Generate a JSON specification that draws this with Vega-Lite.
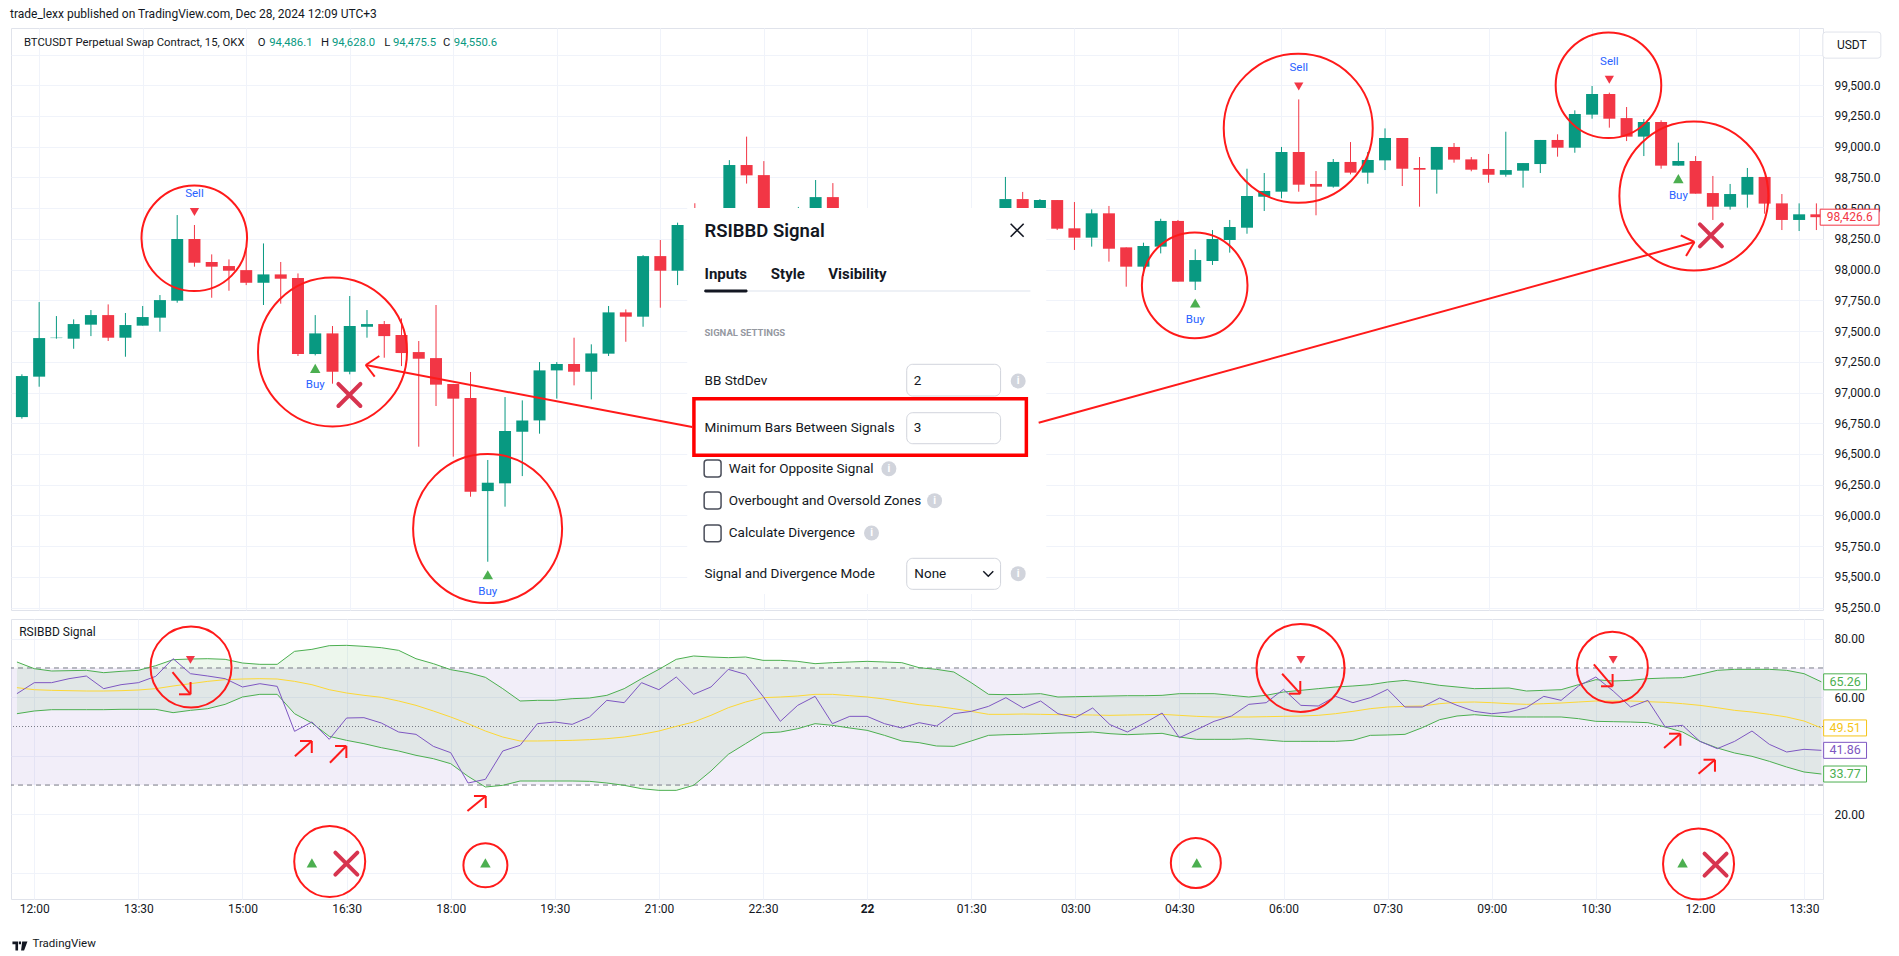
{
"$schema": "https://vega.github.io/schema/vega-lite/v6.json",
"background": "white",
"padding": {"left": 10, "top": 7, "right": 8, "bottom": 4},
"title": {"text": "trade_lexx published on TradingView.com, Dec 28, 2024 12:09 UTC+3", "anchor": "start", "font": "Roboto", "fontSize": 12, "fontWeight": "normal", "color": "#131722", "offset": 7},
"config": {
  "font": "Roboto",
  "view": {"stroke": "#e0e3eb", "strokeWidth": 1},
  "axis": {"labelFont": "Roboto", "labelFontSize": 12, "labelColor": "#131722", "gridColor": "#f0f3fa", "gridWidth": 1, "domain": false, "ticks": false, "tickSize": 0},
  "text": {"font": "Roboto"}
},
"spacing": 3,
"resolve": {"scale": {"color": "independent", "stroke": "independent"}},
"datasets": {
"candles": [
{"t":"2024-12-21T11:45:00","o":96800,"h":97148,"l":96787,"c":97134,"rsi":61.22,"basis":63.27,"upper":72.04,"lower":54.38,"signal":""},
{"t":"2024-12-21T12:00:00","o":97129,"h":97736,"l":97047,"c":97443,"rsi":64.98,"basis":62.58,"upper":69.76,"lower":55.30,"signal":""},
{"t":"2024-12-21T12:15:00","o":97443,"h":97622,"l":97438,"c":97446,"rsi":64.98,"basis":62.36,"upper":68.96,"lower":55.75,"signal":""},
{"t":"2024-12-21T12:30:00","o":97438,"h":97595,"l":97356,"c":97557,"rsi":66.34,"basis":62.24,"upper":69.08,"lower":55.75,"signal":""},
{"t":"2024-12-21T12:45:00","o":97552,"h":97671,"l":97459,"c":97630,"rsi":67.25,"basis":62.13,"upper":69.19,"lower":55.75,"signal":""},
{"t":"2024-12-21T13:00:00","o":97630,"h":97717,"l":97419,"c":97446,"rsi":62.93,"basis":62.13,"upper":68.39,"lower":55.75,"signal":""},
{"t":"2024-12-21T13:15:00","o":97446,"h":97647,"l":97291,"c":97549,"rsi":64.29,"basis":62.24,"upper":68.85,"lower":55.87,"signal":""},
{"t":"2024-12-21T13:30:00","o":97544,"h":97704,"l":97544,"c":97614,"rsi":64.98,"basis":62.47,"upper":69.19,"lower":55.87,"signal":""},
{"t":"2024-12-21T13:45:00","o":97609,"h":97793,"l":97495,"c":97752,"rsi":67.14,"basis":62.93,"upper":70.78,"lower":55.87,"signal":""},
{"t":"2024-12-21T14:00:00","o":97747,"h":98444,"l":97731,"c":98249,"rsi":73.18,"basis":63.84,"upper":72.83,"lower":54.73,"signal":""},
{"t":"2024-12-21T14:15:00","o":98249,"h":98363,"l":98024,"c":98056,"rsi":68.05,"basis":64.63,"upper":73.06,"lower":55.52,"signal":"Sell"},
{"t":"2024-12-21T14:30:00","o":98062,"h":98124,"l":97771,"c":98024,"rsi":67.25,"basis":65.43,"upper":73.17,"lower":56.09,"signal":""},
{"t":"2024-12-21T14:45:00","o":98029,"h":98083,"l":97828,"c":97991,"rsi":66.34,"basis":66.00,"upper":72.95,"lower":57.57,"signal":""},
{"t":"2024-12-21T15:00:00","o":97996,"h":98178,"l":97874,"c":97893,"rsi":63.50,"basis":66.23,"upper":71.69,"lower":60.08,"signal":""},
{"t":"2024-12-21T15:15:00","o":97893,"h":98213,"l":97712,"c":97961,"rsi":64.63,"basis":66.34,"upper":71.24,"lower":60.99,"signal":""},
{"t":"2024-12-21T15:30:00","o":97961,"h":98062,"l":97723,"c":97926,"rsi":63.72,"basis":66.23,"upper":71.24,"lower":60.99,"signal":""},
{"t":"2024-12-21T15:45:00","o":97931,"h":97969,"l":97297,"c":97313,"rsi":48.35,"basis":65.43,"upper":75.68,"lower":54.38,"signal":""},
{"t":"2024-12-21T16:00:00","o":97313,"h":97630,"l":97302,"c":97481,"rsi":51.54,"basis":64.29,"upper":76.36,"lower":51.20,"signal":"Buy"},
{"t":"2024-12-21T16:15:00","o":97481,"h":97541,"l":97072,"c":97169,"rsi":45.62,"basis":62.58,"upper":77.62,"lower":46.64,"signal":""},
{"t":"2024-12-21T16:30:00","o":97169,"h":97785,"l":97148,"c":97541,"rsi":52.91,"basis":61.45,"upper":77.73,"lower":45.27,"signal":""},
{"t":"2024-12-21T16:45:00","o":97535,"h":97671,"l":97446,"c":97557,"rsi":53.02,"basis":60.65,"upper":77.39,"lower":44.14,"signal":""},
{"t":"2024-12-21T17:00:00","o":97557,"h":97582,"l":97283,"c":97459,"rsi":51.20,"basis":59.97,"upper":76.93,"lower":42.77,"signal":""},
{"t":"2024-12-21T17:15:00","o":97468,"h":97603,"l":97215,"c":97321,"rsi":48.12,"basis":58.71,"upper":76.02,"lower":41.63,"signal":""},
{"t":"2024-12-21T17:30:00","o":97329,"h":97419,"l":96559,"c":97275,"rsi":47.32,"basis":57.23,"upper":73.17,"lower":40.15,"signal":""},
{"t":"2024-12-21T17:45:00","o":97280,"h":97712,"l":96890,"c":97064,"rsi":43.22,"basis":55.30,"upper":71.47,"lower":39.01,"signal":""},
{"t":"2024-12-21T18:00:00","o":97069,"h":97069,"l":96478,"c":96950,"rsi":41.06,"basis":53.25,"upper":69.42,"lower":37.30,"signal":""},
{"t":"2024-12-21T18:15:00","o":96955,"h":97167,"l":96152,"c":96193,"rsi":30.70,"basis":50.97,"upper":68.39,"lower":32.98,"signal":""},
{"t":"2024-12-21T18:30:00","o":96198,"h":96451,"l":95623,"c":96266,"rsi":31.95,"basis":48.46,"upper":66.80,"lower":29.33,"signal":"Buy"},
{"t":"2024-12-21T18:45:00","o":96261,"h":96963,"l":96071,"c":96687,"rsi":41.63,"basis":46.41,"upper":62.93,"lower":29.90,"signal":""},
{"t":"2024-12-21T19:00:00","o":96681,"h":96936,"l":96320,"c":96773,"rsi":43.57,"basis":45.05,"upper":58.71,"lower":31.38,"signal":""},
{"t":"2024-12-21T19:15:00","o":96773,"h":97248,"l":96665,"c":97180,"rsi":50.97,"basis":45.05,"upper":58.94,"lower":31.38,"signal":""},
{"t":"2024-12-21T19:30:00","o":97180,"h":97248,"l":96950,"c":97232,"rsi":51.54,"basis":45.16,"upper":58.94,"lower":31.38,"signal":""},
{"t":"2024-12-21T19:45:00","o":97232,"h":97446,"l":97058,"c":97169,"rsi":50.74,"basis":45.27,"upper":59.51,"lower":31.38,"signal":""},
{"t":"2024-12-21T20:00:00","o":97169,"h":97392,"l":96944,"c":97318,"rsi":53.25,"basis":45.50,"upper":59.74,"lower":31.27,"signal":""},
{"t":"2024-12-21T20:15:00","o":97316,"h":97704,"l":97297,"c":97652,"rsi":58.94,"basis":45.84,"upper":60.65,"lower":30.70,"signal":""},
{"t":"2024-12-21T20:30:00","o":97652,"h":97676,"l":97413,"c":97617,"rsi":58.14,"basis":46.41,"upper":62.93,"lower":29.90,"signal":""},
{"t":"2024-12-21T20:45:00","o":97617,"h":98118,"l":97535,"c":98110,"rsi":64.98,"basis":47.32,"upper":66.34,"lower":28.76,"signal":""},
{"t":"2024-12-21T21:00:00","o":98110,"h":98241,"l":97690,"c":97991,"rsi":62.58,"basis":48.46,"upper":69.53,"lower":28.19,"signal":""},
{"t":"2024-12-21T21:15:00","o":97991,"h":98382,"l":97874,"c":98363,"rsi":66.91,"basis":50.06,"upper":72.95,"lower":28.19,"signal":""},
{"t":"2024-12-21T21:30:00","o":98380,"h":98540,"l":98200,"c":98280,"rsi":60.99,"basis":51.54,"upper":74.09,"lower":29.90,"signal":""},
{"t":"2024-12-21T21:45:00","o":98280,"h":98480,"l":98230,"c":98450,"rsi":63.50,"basis":53.82,"upper":73.74,"lower":34.80,"signal":""},
{"t":"2024-12-21T22:00:00","o":98450,"h":98891,"l":98420,"c":98851,"rsi":69.53,"basis":56.43,"upper":73.52,"lower":40.49,"signal":""},
{"t":"2024-12-21T22:15:00","o":98851,"h":99082,"l":98700,"c":98767,"rsi":67.82,"basis":58.37,"upper":73.74,"lower":44.14,"signal":""},
{"t":"2024-12-21T22:30:00","o":98769,"h":98883,"l":98440,"c":98470,"rsi":60.31,"basis":59.85,"upper":72.61,"lower":47.78,"signal":""},
{"t":"2024-12-21T22:45:00","o":98470,"h":98490,"l":98200,"c":98250,"rsi":51.77,"basis":60.08,"upper":72.61,"lower":48.12,"signal":""},
{"t":"2024-12-21T23:00:00","o":98250,"h":98510,"l":98230,"c":98420,"rsi":57.23,"basis":60.42,"upper":72.26,"lower":49.26,"signal":""},
{"t":"2024-12-21T23:15:00","o":98420,"h":98729,"l":98400,"c":98590,"rsi":60.31,"basis":60.99,"upper":71.47,"lower":50.97,"signal":""},
{"t":"2024-12-21T23:30:00","o":98590,"h":98704,"l":98320,"c":98350,"rsi":50.97,"basis":60.99,"upper":71.81,"lower":50.40,"signal":""},
{"t":"2024-12-21T23:45:00","o":98350,"h":98460,"l":98300,"c":98400,"rsi":53.47,"basis":60.53,"upper":72.04,"lower":49.49,"signal":""},
{"t":"2024-12-22T00:00:00","o":98400,"h":98450,"l":98350,"c":98405,"rsi":53.47,"basis":60.08,"upper":72.26,"lower":48.69,"signal":""},
{"t":"2024-12-22T00:15:00","o":98405,"h":98430,"l":98300,"c":98350,"rsi":50.97,"basis":59.40,"upper":72.04,"lower":46.98,"signal":""},
{"t":"2024-12-22T00:30:00","o":98350,"h":98390,"l":98270,"c":98320,"rsi":49.49,"basis":58.37,"upper":71.81,"lower":45.05,"signal":""},
{"t":"2024-12-22T00:45:00","o":98320,"h":98420,"l":98290,"c":98370,"rsi":51.31,"basis":57.46,"upper":70.10,"lower":44.48,"signal":""},
{"t":"2024-12-22T01:00:00","o":98370,"h":98410,"l":98300,"c":98340,"rsi":50.17,"basis":56.89,"upper":69.53,"lower":43.34,"signal":""},
{"t":"2024-12-22T01:15:00","o":98340,"h":98470,"l":98320,"c":98430,"rsi":54.38,"basis":56.09,"upper":68.62,"lower":43.22,"signal":""},
{"t":"2024-12-22T01:30:00","o":98430,"h":98490,"l":98380,"c":98460,"rsi":55.18,"basis":55.18,"upper":64.98,"lower":45.05,"signal":""},
{"t":"2024-12-22T01:45:00","o":98460,"h":98495,"l":98420,"c":98480,"rsi":56.89,"basis":54.16,"upper":60.99,"lower":46.98,"signal":""},
{"t":"2024-12-22T02:00:00","o":98480,"h":98754,"l":98450,"c":98574,"rsi":59.85,"basis":54.16,"upper":60.88,"lower":47.21,"signal":""},
{"t":"2024-12-22T02:15:00","o":98574,"h":98632,"l":98440,"c":98480,"rsi":56.32,"basis":54.27,"upper":60.99,"lower":47.32,"signal":""},
{"t":"2024-12-22T02:30:00","o":98480,"h":98574,"l":98450,"c":98566,"rsi":58.71,"basis":54.16,"upper":61.22,"lower":47.55,"signal":""},
{"t":"2024-12-22T02:45:00","o":98566,"h":98566,"l":98322,"c":98333,"rsi":54.38,"basis":54.04,"upper":60.08,"lower":47.78,"signal":""},
{"t":"2024-12-22T03:00:00","o":98336,"h":98550,"l":98160,"c":98260,"rsi":53.02,"basis":54.04,"upper":60.19,"lower":47.89,"signal":""},
{"t":"2024-12-22T03:15:00","o":98260,"h":98490,"l":98187,"c":98458,"rsi":56.32,"basis":53.93,"upper":60.31,"lower":48.12,"signal":""},
{"t":"2024-12-22T03:30:00","o":98458,"h":98518,"l":98065,"c":98170,"rsi":50.63,"basis":53.82,"upper":60.42,"lower":47.55,"signal":""},
{"t":"2024-12-22T03:45:00","o":98181,"h":98181,"l":97861,"c":98024,"rsi":48.12,"basis":53.93,"upper":60.53,"lower":47.21,"signal":""},
{"t":"2024-12-22T04:00:00","o":98024,"h":98219,"l":97950,"c":98192,"rsi":51.20,"basis":54.04,"upper":60.53,"lower":47.44,"signal":""},
{"t":"2024-12-22T04:15:00","o":98187,"h":98414,"l":98132,"c":98396,"rsi":54.61,"basis":54.16,"upper":60.65,"lower":47.67,"signal":""},
{"t":"2024-12-22T04:30:00","o":98396,"h":98404,"l":97902,"c":97902,"rsi":46.19,"basis":53.82,"upper":61.22,"lower":46.41,"signal":""},
{"t":"2024-12-22T04:45:00","o":97902,"h":98165,"l":97834,"c":98078,"rsi":48.92,"basis":53.47,"upper":61.22,"lower":45.62,"signal":"Buy"},
{"t":"2024-12-22T05:00:00","o":98070,"h":98322,"l":98038,"c":98249,"rsi":51.77,"basis":53.25,"upper":61.22,"lower":45.62,"signal":""},
{"t":"2024-12-22T05:15:00","o":98241,"h":98404,"l":98138,"c":98347,"rsi":53.59,"basis":53.25,"upper":60.65,"lower":45.62,"signal":""},
{"t":"2024-12-22T05:30:00","o":98341,"h":98821,"l":98292,"c":98599,"rsi":57.57,"basis":53.25,"upper":60.08,"lower":45.84,"signal":""},
{"t":"2024-12-22T05:45:00","o":98593,"h":98786,"l":98477,"c":98640,"rsi":58.14,"basis":53.36,"upper":60.65,"lower":45.39,"signal":""},
{"t":"2024-12-22T06:00:00","o":98634,"h":98998,"l":98580,"c":98957,"rsi":62.70,"basis":53.47,"upper":61.79,"lower":44.93,"signal":""},
{"t":"2024-12-22T06:15:00","o":98957,"h":99385,"l":98634,"c":98691,"rsi":57.23,"basis":53.59,"upper":62.36,"lower":44.93,"signal":"Sell"},
{"t":"2024-12-22T06:30:00","o":98697,"h":98802,"l":98442,"c":98675,"rsi":57.00,"basis":53.82,"upper":62.93,"lower":44.93,"signal":""},
{"t":"2024-12-22T06:45:00","o":98675,"h":98900,"l":98667,"c":98876,"rsi":60.31,"basis":54.38,"upper":63.50,"lower":44.93,"signal":""},
{"t":"2024-12-22T07:00:00","o":98876,"h":99038,"l":98775,"c":98789,"rsi":58.14,"basis":55.18,"upper":63.84,"lower":45.27,"signal":""},
{"t":"2024-12-22T07:15:00","o":98789,"h":98957,"l":98699,"c":98892,"rsi":59.85,"basis":56.09,"upper":64.29,"lower":46.98,"signal":""},
{"t":"2024-12-22T07:30:00","o":98889,"h":99149,"l":98810,"c":99071,"rsi":62.70,"basis":56.66,"upper":65.20,"lower":47.10,"signal":""},
{"t":"2024-12-22T07:45:00","o":99071,"h":99071,"l":98680,"c":98821,"rsi":56.66,"basis":56.89,"upper":65.77,"lower":47.32,"signal":""},
{"t":"2024-12-22T08:00:00","o":98827,"h":98916,"l":98512,"c":98813,"rsi":56.66,"basis":57.00,"upper":64.98,"lower":49.60,"signal":""},
{"t":"2024-12-22T08:15:00","o":98813,"h":98998,"l":98618,"c":98998,"rsi":59.74,"basis":57.80,"upper":64.06,"lower":52.33,"signal":""},
{"t":"2024-12-22T08:30:00","o":98998,"h":99030,"l":98870,"c":98895,"rsi":57.23,"basis":58.26,"upper":63.50,"lower":53.59,"signal":""},
{"t":"2024-12-22T08:45:00","o":98897,"h":98916,"l":98800,"c":98813,"rsi":55.18,"basis":58.37,"upper":62.93,"lower":54.04,"signal":""},
{"t":"2024-12-22T09:00:00","o":98819,"h":98941,"l":98707,"c":98772,"rsi":54.38,"basis":58.14,"upper":63.04,"lower":53.59,"signal":""},
{"t":"2024-12-22T09:15:00","o":98772,"h":99122,"l":98756,"c":98810,"rsi":54.95,"basis":57.80,"upper":63.15,"lower":53.25,"signal":""},
{"t":"2024-12-22T09:30:00","o":98805,"h":98867,"l":98667,"c":98867,"rsi":56.43,"basis":57.57,"upper":62.13,"lower":53.25,"signal":""},
{"t":"2024-12-22T09:45:00","o":98859,"h":99055,"l":98786,"c":99055,"rsi":60.31,"basis":57.80,"upper":62.36,"lower":53.25,"signal":""},
{"t":"2024-12-22T10:00:00","o":99055,"h":99101,"l":98919,"c":98992,"rsi":58.94,"basis":58.03,"upper":62.58,"lower":53.25,"signal":""},
{"t":"2024-12-22T10:15:00","o":98992,"h":99296,"l":98951,"c":99266,"rsi":63.84,"basis":58.37,"upper":64.29,"lower":52.68,"signal":""},
{"t":"2024-12-22T10:30:00","o":99261,"h":99494,"l":99228,"c":99429,"rsi":66.91,"basis":58.71,"upper":66.00,"lower":51.77,"signal":""},
{"t":"2024-12-22T10:45:00","o":99429,"h":99440,"l":99155,"c":99228,"rsi":62.13,"basis":58.71,"upper":65.55,"lower":51.65,"signal":"Sell"},
{"t":"2024-12-22T11:00:00","o":99233,"h":99323,"l":99046,"c":99082,"rsi":56.66,"basis":58.71,"upper":65.77,"lower":51.54,"signal":""},
{"t":"2024-12-22T11:15:00","o":99082,"h":99225,"l":98924,"c":99201,"rsi":58.94,"basis":58.48,"upper":66.34,"lower":51.31,"signal":""},
{"t":"2024-12-22T11:30:00","o":99201,"h":99215,"l":98821,"c":98846,"rsi":49.83,"basis":58.26,"upper":66.57,"lower":49.83,"signal":""},
{"t":"2024-12-22T11:45:00","o":98846,"h":99033,"l":98846,"c":98884,"rsi":50.40,"basis":57.80,"upper":66.68,"lower":48.12,"signal":"Buy"},
{"t":"2024-12-22T12:00:00","o":98884,"h":98924,"l":98618,"c":98618,"rsi":44.93,"basis":57.23,"upper":67.82,"lower":44.93,"signal":""},
{"t":"2024-12-22T12:15:00","o":98623,"h":98762,"l":98404,"c":98512,"rsi":42.43,"basis":56.43,"upper":69.19,"lower":42.66,"signal":""},
{"t":"2024-12-22T12:30:00","o":98512,"h":98697,"l":98488,"c":98615,"rsi":44.93,"basis":55.52,"upper":69.53,"lower":40.95,"signal":""},
{"t":"2024-12-22T12:45:00","o":98610,"h":98827,"l":98504,"c":98754,"rsi":48.46,"basis":54.95,"upper":69.53,"lower":39.81,"signal":""},
{"t":"2024-12-22T13:00:00","o":98754,"h":98754,"l":98455,"c":98537,"rsi":43.91,"basis":54.16,"upper":69.53,"lower":38.10,"signal":""},
{"t":"2024-12-22T13:15:00","o":98539,"h":98615,"l":98322,"c":98404,"rsi":41.29,"basis":53.25,"upper":69.19,"lower":36.16,"signal":""},
{"t":"2024-12-22T13:30:00","o":98404,"h":98539,"l":98314,"c":98450,"rsi":42.20,"basis":51.88,"upper":68.05,"lower":34.46,"signal":""},
{"t":"2024-12-22T13:45:00","o":98450,"h":98539,"l":98322,"c":98426.6,"rsi":41.86,"basis":49.51,"upper":65.26,"lower":33.77,"signal":""}
],
"hdr": [
{"t":"2024-12-21T11:46:48","p":99841,"text":"BTCUSDT Perpetual Swap Contract, 15, OKX","part":"name"},
{"t":"2024-12-21T15:10:00","p":99841,"text":"O","part":"name"},
{"t":"2024-12-21T15:20:00","p":99841,"text":"94,486.1","part":"value"},
{"t":"2024-12-21T16:05:00","p":99841,"text":"H","part":"name"},
{"t":"2024-12-21T16:14:30","p":99841,"text":"94,628.0","part":"value"},
{"t":"2024-12-21T17:00:00","p":99841,"text":"L","part":"name"},
{"t":"2024-12-21T17:07:30","p":99841,"text":"94,475.5","part":"value"},
{"t":"2024-12-21T17:51:00","p":99841,"text":"C","part":"name"},
{"t":"2024-12-21T18:00:30","p":99841,"text":"94,550.6","part":"value"}
],
"mainCircles": [
{"t":"2024-12-21T14:14:51","p":98255,"cls":"S"},
{"t":"2024-12-21T16:15:00","p":97330,"cls":"L"},
{"t":"2024-12-21T18:29:51","p":95893,"cls":"L"},
{"t":"2024-12-22T04:44:33","p":97872,"cls":"S"},
{"t":"2024-12-22T06:14:33","p":99150,"cls":"L"},
{"t":"2024-12-22T10:44:15","p":99500,"cls":"S"},
{"t":"2024-12-22T11:58:30","p":98599,"cls":"L"}
],
"mainX": [
{"t":"2024-12-21T16:29:42","p":96980},
{"t":"2024-12-22T12:13:18","p":98279}
],
"mainLines": [
{"t1":"2024-12-21T21:27:42","p1":96719,"t2":"2024-12-21T16:43:54","p2":97223.8},
{"t1":"2024-12-21T16:43:54","p1":97223.8,"t2":"2024-12-21T16:55:42","p2":97297},
{"t1":"2024-12-21T16:43:54","p1":97223.8,"t2":"2024-12-21T16:51:42","p2":97128.6},
{"t1":"2024-12-22T02:28:54","p1":96754,"t2":"2024-12-22T11:59:00","p2":98224.6},
{"t1":"2024-12-22T11:59:00","p1":98224.6,"t2":"2024-12-22T11:47:06","p2":98279},
{"t1":"2024-12-22T11:59:00","p1":98224.6,"t2":"2024-12-22T11:51:42","p2":98110.7}
],
"uiRects": [
{"kind":"dialog","t1":"2024-12-21T21:23:24","t2":"2024-12-22T02:35:30","p1":98501,"p2":95360},
{"kind":"tabbase","t1":"2024-12-21T22:15:54","t2":"2024-12-22T02:21:42","p1":97834,"p2":97818},
{"kind":"tabline","t1":"2024-12-21T21:38:06","t2":"2024-12-21T22:15:54","p1":97838,"p2":97814},
{"kind":"input","t1":"2024-12-22T00:34:12","t2":"2024-12-22T01:55:48","p1":97229.5,"p2":96971.5},
{"kind":"input","t1":"2024-12-22T00:34:12","t2":"2024-12-22T01:55:48","p1":96835.6,"p2":96583.4},
{"kind":"input","t1":"2024-12-22T00:34:12","t2":"2024-12-22T01:55:48","p1":95650.9,"p2":95398.6},
{"kind":"checkbox","t1":"2024-12-21T21:38:06","t2":"2024-12-21T21:52:48","p1":96450.7,"p2":96312.4},
{"kind":"checkbox","t1":"2024-12-21T21:38:06","t2":"2024-12-21T21:52:48","p1":96190.3,"p2":96052},
{"kind":"checkbox","t1":"2024-12-21T21:38:06","t2":"2024-12-21T21:52:48","p1":95921.8,"p2":95785.9},
{"kind":"highlight","t1":"2024-12-21T21:29:12","t2":"2024-12-22T02:18:12","p1":96949.6,"p2":96489}
],
"uiText": [
{"kind":"dtitle","t":"2024-12-21T21:38:24","p":98314,"text":"RSIBBD Signal"},
{"kind":"tab","t":"2024-12-21T21:38:24","p":97967,"text":"Inputs"},
{"kind":"tab","t":"2024-12-21T22:36:03","p":97967,"text":"Style"},
{"kind":"tab","t":"2024-12-21T23:25:56","p":97967,"text":"Visibility"},
{"kind":"section","t":"2024-12-21T21:38:24","p":97484,"text":"SIGNAL SETTINGS"},
{"kind":"label","t":"2024-12-21T21:38:24","p":97094,"text":"BB StdDev"},
{"kind":"label","t":"2024-12-21T21:38:24","p":96709,"text":"Minimum Bars Between Signals"},
{"kind":"label","t":"2024-12-21T21:38:24","p":95526,"text":"Signal and Divergence Mode"},
{"kind":"label","t":"2024-12-21T21:59:30","p":96380,"text":"Wait for Opposite Signal"},
{"kind":"label","t":"2024-12-21T21:59:30","p":96120,"text":"Overbought and Oversold Zones"},
{"kind":"label","t":"2024-12-21T21:59:30","p":95857,"text":"Calculate Divergence"},
{"kind":"label","t":"2024-12-22T00:40:18","p":97094,"text":"2"},
{"kind":"label","t":"2024-12-22T00:40:18","p":96709,"text":"3"},
{"kind":"label","t":"2024-12-22T00:40:48","p":95526,"text":"None"}
],
"uiIcons": [
{"kind":"info","t":"2024-12-22T02:11:06","p":97094},
{"kind":"info","t":"2024-12-22T00:18:42","p":96380},
{"kind":"info","t":"2024-12-22T00:58:24","p":96120},
{"kind":"info","t":"2024-12-22T00:03:36","p":95857},
{"kind":"info","t":"2024-12-22T02:11:06","p":95526},
{"kind":"close","t":"2024-12-22T02:10:12","p":98320},
{"kind":"chevron","t":"2024-12-22T01:45:06","p":95526}
],
"rsiCircles": [
{"t":"2024-12-21T14:15:30","v":70.33,"cls":"d"},
{"t":"2024-12-21T16:15:24","v":3.88,"cls":"c"},
{"t":"2024-12-21T18:30:00","v":2.58,"cls":"a"},
{"t":"2024-12-22T04:44:12","v":3.37,"cls":"b"},
{"t":"2024-12-22T06:14:42","v":69.99,"cls":"e"},
{"t":"2024-12-22T10:44:18","v":70.23,"cls":"c"},
{"t":"2024-12-22T11:58:48","v":3.03,"cls":"c"}
],
"rsiX": [
{"t":"2024-12-21T16:29:48","v":3.13},
{"t":"2024-12-22T12:13:30","v":2.79}
],
"rsiLines": [
{"t1":"2024-12-21T13:59:30","v1":68.62,"t2":"2024-12-21T14:15:06","v2":61.0},
{"t1":"2024-12-21T14:15:06","v1":61.0,"t2":"2024-12-21T14:05:06","v2":61.0},
{"t1":"2024-12-21T14:15:06","v1":61.0,"t2":"2024-12-21T14:15:06","v2":65.21},
{"t1":"2024-12-21T15:45:18","v1":39.82,"t2":"2024-12-21T15:59:54","v2":45.05},
{"t1":"2024-12-21T15:59:54","v1":45.05,"t2":"2024-12-21T15:49:42","v2":45.05},
{"t1":"2024-12-21T15:59:54","v1":45.05,"t2":"2024-12-21T15:59:54","v2":40.95},
{"t1":"2024-12-21T16:15:36","v1":37.64,"t2":"2024-12-21T16:29:48","v2":43.34},
{"t1":"2024-12-21T16:29:48","v1":43.34,"t2":"2024-12-21T16:20:00","v2":43.34},
{"t1":"2024-12-21T16:29:48","v1":43.34,"t2":"2024-12-21T16:29:48","v2":39.24},
{"t1":"2024-12-21T18:14:30","v1":21.13,"t2":"2024-12-21T18:30:18","v2":26.26},
{"t1":"2024-12-21T18:30:18","v1":26.26,"t2":"2024-12-21T18:20:06","v2":26.26},
{"t1":"2024-12-21T18:30:18","v1":26.26,"t2":"2024-12-21T18:30:18","v2":22.16},
{"t1":"2024-12-22T05:58:48","v1":68.04,"t2":"2024-12-22T06:14:30","v2":61.21},
{"t1":"2024-12-22T06:14:30","v1":61.21,"t2":"2024-12-22T06:04:48","v2":61.21},
{"t1":"2024-12-22T06:14:30","v1":61.21,"t2":"2024-12-22T06:14:30","v2":65.55},
{"t1":"2024-12-22T10:28:18","v1":71.25,"t2":"2024-12-22T10:44:30","v2":63.74},
{"t1":"2024-12-22T10:44:30","v1":63.74,"t2":"2024-12-22T10:34:30","v2":63.74},
{"t1":"2024-12-22T10:44:30","v1":63.74,"t2":"2024-12-22T10:44:30","v2":67.94},
{"t1":"2024-12-22T11:29:00","v1":42.66,"t2":"2024-12-22T11:43:06","v2":47.54},
{"t1":"2024-12-22T11:43:06","v1":47.54,"t2":"2024-12-22T11:33:18","v2":47.54},
{"t1":"2024-12-22T11:43:06","v1":47.54,"t2":"2024-12-22T11:43:06","v2":43.44},
{"t1":"2024-12-22T11:58:48","v1":33.88,"t2":"2024-12-22T12:13:00","v2":38.66},
{"t1":"2024-12-22T12:13:00","v1":38.66,"t2":"2024-12-22T12:03:06","v2":38.66},
{"t1":"2024-12-22T12:13:00","v1":38.66,"t2":"2024-12-22T12:13:00","v2":34.56}
]
},
"vconcat": [
{
"width": 1812, "height": 582,
"layer": [
{"data": {"name": "candles"}, "mark": {"type": "rule", "strokeWidth": 1, "clip": true},
 "encoding": {
  "x": {"field": "t", "type": "temporal", "scale": {"domain": [{"year":2024,"month":12,"date":21,"hours":11,"minutes":39,"seconds":52},{"year":2024,"month":12,"date":22,"hours":13,"minutes":46,"seconds":24}], "nice": false},
        "axis": {"values": [{"year":2024,"month":12,"date":21,"hours":12,"minutes":0},{"year":2024,"month":12,"date":21,"hours":13,"minutes":30},{"year":2024,"month":12,"date":21,"hours":15,"minutes":0},{"year":2024,"month":12,"date":21,"hours":16,"minutes":30},{"year":2024,"month":12,"date":21,"hours":18,"minutes":0},{"year":2024,"month":12,"date":21,"hours":19,"minutes":30},{"year":2024,"month":12,"date":21,"hours":21,"minutes":0},{"year":2024,"month":12,"date":21,"hours":22,"minutes":30},{"year":2024,"month":12,"date":22,"hours":0,"minutes":0},{"year":2024,"month":12,"date":22,"hours":1,"minutes":30},{"year":2024,"month":12,"date":22,"hours":3,"minutes":0},{"year":2024,"month":12,"date":22,"hours":4,"minutes":30},{"year":2024,"month":12,"date":22,"hours":6,"minutes":0},{"year":2024,"month":12,"date":22,"hours":7,"minutes":30},{"year":2024,"month":12,"date":22,"hours":9,"minutes":0},{"year":2024,"month":12,"date":22,"hours":10,"minutes":30},{"year":2024,"month":12,"date":22,"hours":12,"minutes":0},{"year":2024,"month":12,"date":22,"hours":13,"minutes":30}], "tickCount": 60, "labels": false, "grid": true, "title": null}},
  "y": {"field": "l", "type": "quantitative", "scale": {"domain": [95230.3, 99966], "nice": false, "zero": false},
        "axis": {"orient": "right", "values": [95250,95500,95750,96000,96250,96500,96750,97000,97250,97500,97750,98000,98250,98500,98750,99000,99250,99500,99750], "tickCount": 60, "labelExpr": "datum.value > 99600 ? '' : format(datum.value, ',.1f')", "labelOverlap": false, "grid": true, "labelPadding": 11, "title": null}},
  "y2": {"field": "h"},
  "color": {"condition": {"test": "datum.c >= datum.o", "value": "#089981"}, "value": "#f23645"}
 }},
{"data": {"name": "candles"}, "mark": {"type": "bar", "size": 12, "clip": true},
 "encoding": {"x": {"field": "t", "type": "temporal"}, "y": {"field": "o", "type": "quantitative"}, "y2": {"field": "c"},
  "color": {"condition": {"test": "datum.c >= datum.o", "value": "#089981"}, "value": "#f23645"}}},
{"data": {"name": "candles"}, "transform": [{"filter": "datum.signal == 'Sell'"}],
 "mark": {"type": "point", "shape": "triangle-down", "filled": true, "size": 86, "color": "#f23645", "opacity": 1, "yOffset": -13},
 "encoding": {"x": {"field": "t", "type": "temporal"}, "y": {"field": "h", "type": "quantitative"}}},
{"data": {"name": "candles"}, "transform": [{"filter": "datum.signal == 'Sell'"}],
 "mark": {"type": "text", "color": "#2962ff", "fontSize": 11.5, "yOffset": -31, "align": "center", "baseline": "middle"},
 "encoding": {"x": {"field": "t", "type": "temporal"}, "y": {"field": "h", "type": "quantitative"}, "text": {"field": "signal"}}},
{"data": {"name": "candles"}, "transform": [{"filter": "datum.signal == 'Buy'"}],
 "mark": {"type": "point", "shape": "triangle-up", "filled": true, "size": 110, "color": "#4caf50", "opacity": 1, "yOffset": 13},
 "encoding": {"x": {"field": "t", "type": "temporal"}, "y": {"field": "l", "type": "quantitative"}}},
{"data": {"name": "candles"}, "transform": [{"filter": "datum.signal == 'Buy'"}],
 "mark": {"type": "text", "color": "#2962ff", "fontSize": 11.5, "yOffset": 30, "align": "center", "baseline": "middle"},
 "encoding": {"x": {"field": "t", "type": "temporal"}, "y": {"field": "l", "type": "quantitative"}, "text": {"field": "signal"}}},
{"data": {"name": "hdr"}, "mark": {"type": "text", "align": "left", "baseline": "middle", "fontSize": 11.3},
 "encoding": {"x": {"field": "t", "type": "temporal"}, "y": {"field": "p", "type": "quantitative"}, "text": {"field": "text"},
  "color": {"field": "part", "type": "nominal", "scale": {"domain": ["name","value"], "range": ["#131722","#089981"]}, "legend": null}}},
{"data": {"name": "mainCircles"}, "transform": [{"filter": "datum.cls == 'S'"}], "mark": {"type": "point", "shape": "circle", "filled": false, "color": "#ff1a1a", "strokeWidth": 2, "opacity": 1, "size": 11151},
 "encoding": {"x": {"field": "t", "type": "temporal"}, "y": {"field": "p", "type": "quantitative"}}},
{"data": {"name": "mainCircles"}, "transform": [{"filter": "datum.cls == 'L'"}], "mark": {"type": "point", "shape": "circle", "filled": false, "color": "#ff1a1a", "strokeWidth": 2, "opacity": 1, "size": 22201},
 "encoding": {"x": {"field": "t", "type": "temporal"}, "y": {"field": "p", "type": "quantitative"}}},
{"data": {"name": "mainX"}, "mark": {"type": "point", "shape": "M-1,-1L1,1M1,-1L-1,1", "filled": false, "size": 484, "color": "#d7344f", "strokeWidth": 4, "strokeCap": "round", "opacity": 1},
 "encoding": {"x": {"field": "t", "type": "temporal"}, "y": {"field": "p", "type": "quantitative"}}},
{"data": {"name": "uiRects"}, "transform": [{"filter": "datum.kind == 'dialog'"}], "mark": {"type": "rect", "fill": "white"},
 "encoding": {"x": {"field": "t1", "type": "temporal"}, "x2": {"field": "t2"}, "y": {"field": "p1", "type": "quantitative"}, "y2": {"field": "p2"}}},
{"data": {"name": "uiRects"}, "transform": [{"filter": "datum.kind == 'tabbase'"}], "mark": {"type": "rect", "fill": "#eef1f6"},
 "encoding": {"x": {"field": "t1", "type": "temporal"}, "x2": {"field": "t2"}, "y": {"field": "p1", "type": "quantitative"}, "y2": {"field": "p2"}}},
{"data": {"name": "uiRects"}, "transform": [{"filter": "datum.kind == 'tabline'"}], "mark": {"type": "rect", "fill": "#131722", "cornerRadius": 1.5},
 "encoding": {"x": {"field": "t1", "type": "temporal"}, "x2": {"field": "t2"}, "y": {"field": "p1", "type": "quantitative"}, "y2": {"field": "p2"}}},
{"data": {"name": "uiRects"}, "transform": [{"filter": "datum.kind == 'input'"}], "mark": {"type": "rect", "fill": "white", "stroke": "#d1d4dc", "strokeWidth": 1, "cornerRadius": 6},
 "encoding": {"x": {"field": "t1", "type": "temporal"}, "x2": {"field": "t2"}, "y": {"field": "p1", "type": "quantitative"}, "y2": {"field": "p2"}}},
{"data": {"name": "uiRects"}, "transform": [{"filter": "datum.kind == 'checkbox'"}], "mark": {"type": "rect", "fill": "white", "stroke": "#4a4e5a", "strokeWidth": 1.5, "cornerRadius": 3},
 "encoding": {"x": {"field": "t1", "type": "temporal"}, "x2": {"field": "t2"}, "y": {"field": "p1", "type": "quantitative"}, "y2": {"field": "p2"}}},
{"data": {"name": "uiRects"}, "transform": [{"filter": "datum.kind == 'highlight'"}], "mark": {"type": "rect", "fill": "transparent", "stroke": "#ff0000", "strokeWidth": 3.5},
 "encoding": {"x": {"field": "t1", "type": "temporal"}, "x2": {"field": "t2"}, "y": {"field": "p1", "type": "quantitative"}, "y2": {"field": "p2"}}},
{"data": {"name": "uiText"}, "transform": [{"filter": "datum.kind == 'dtitle'"}], "mark": {"type": "text", "align": "left", "baseline": "middle", "fontSize": 18.5, "fontWeight": 600, "color": "#131722"},
 "encoding": {"x": {"field": "t", "type": "temporal"}, "y": {"field": "p", "type": "quantitative"}, "text": {"field": "text"}}},
{"data": {"name": "uiText"}, "transform": [{"filter": "datum.kind == 'tab'"}], "mark": {"type": "text", "align": "left", "baseline": "middle", "fontSize": 15, "fontWeight": "bold", "color": "#131722"},
 "encoding": {"x": {"field": "t", "type": "temporal"}, "y": {"field": "p", "type": "quantitative"}, "text": {"field": "text"}}},
{"data": {"name": "uiText"}, "transform": [{"filter": "datum.kind == 'section'"}], "mark": {"type": "text", "align": "left", "baseline": "middle", "fontSize": 9.5, "fontWeight": "bold", "color": "#9598a1"},
 "encoding": {"x": {"field": "t", "type": "temporal"}, "y": {"field": "p", "type": "quantitative"}, "text": {"field": "text"}}},
{"data": {"name": "uiText"}, "transform": [{"filter": "datum.kind == 'label'"}], "mark": {"type": "text", "align": "left", "baseline": "middle", "fontSize": 13.5, "color": "#131722"},
 "encoding": {"x": {"field": "t", "type": "temporal"}, "y": {"field": "p", "type": "quantitative"}, "text": {"field": "text"}}},
{"data": {"name": "uiIcons"}, "transform": [{"filter": "datum.kind == 'info'"}], "mark": {"type": "point", "shape": "circle", "filled": true, "size": 225, "color": "#d1d4dc", "opacity": 1},
 "encoding": {"x": {"field": "t", "type": "temporal"}, "y": {"field": "p", "type": "quantitative"}}},
{"data": {"name": "uiIcons"}, "transform": [{"filter": "datum.kind == 'info'"}], "mark": {"type": "text", "text": "i", "align": "center", "baseline": "middle", "fontSize": 10.5, "fontWeight": "bold", "color": "white"},
 "encoding": {"x": {"field": "t", "type": "temporal"}, "y": {"field": "p", "type": "quantitative"}}},
{"data": {"name": "uiIcons"}, "transform": [{"filter": "datum.kind == 'close'"}], "mark": {"type": "point", "shape": "M-1,-1L1,1M1,-1L-1,1", "filled": false, "size": 169, "color": "#131722", "strokeWidth": 1.6, "opacity": 1},
 "encoding": {"x": {"field": "t", "type": "temporal"}, "y": {"field": "p", "type": "quantitative"}}},
{"data": {"name": "uiIcons"}, "transform": [{"filter": "datum.kind == 'chevron'"}], "mark": {"type": "point", "shape": "M-1,-0.5L0,0.5L1,-0.5", "filled": false, "size": 100, "color": "#131722", "strokeWidth": 1.5, "opacity": 1},
 "encoding": {"x": {"field": "t", "type": "temporal"}, "y": {"field": "p", "type": "quantitative"}}},
{"data": {"name": "mainLines"}, "mark": {"type": "rule", "color": "#ff1a1a", "strokeWidth": 2},
 "encoding": {"x": {"field": "t1", "type": "temporal"}, "x2": {"field": "t2"}, "y": {"field": "p1", "type": "quantitative"}, "y2": {"field": "p2"}}},
{"data": {"values": [{"label": "USDT"}]}, "mark": {"type": "point", "shape": "M-0.9,-0.45L0.9,-0.45Q1,-0.45,1,-0.35L1,0.35Q1,0.45,0.9,0.45L-0.9,0.45Q-1,0.45,-1,0.35L-1,-0.35Q-1,-0.45,-0.9,-0.45Z", "size": 3364, "filled": true, "fill": "white", "stroke": "#e0e3eb", "strokeWidth": 1, "opacity": 1},
 "encoding": {"x": {"datum": {"year":2024,"month":12,"date":22,"hours":14,"minutes":15,"seconds":48}, "type": "temporal"}, "y": {"datum": 99827, "type": "quantitative"}}},
{"data": {"values": [{"label": "USDT"}]}, "mark": {"type": "text", "align": "center", "baseline": "middle", "fontSize": 12, "color": "#131722"},
 "encoding": {"x": {"datum": {"year":2024,"month":12,"date":22,"hours":14,"minutes":15,"seconds":48}, "type": "temporal"}, "y": {"datum": 99827, "type": "quantitative"}, "text": {"field": "label"}}},
{"data": {"name": "candles"}, "transform": [{"filter": "datum.c == 98426.6"}], "mark": {"type": "point", "shape": "M-1.84,-0.5L1.84,-0.5L1.84,0.5L-1.84,0.5Z", "size": 1024, "filled": true, "fill": "white", "stroke": "#f23645", "strokeWidth": 1, "opacity": 1},
 "encoding": {"x": {"datum": {"year":2024,"month":12,"date":22,"hours":14,"minutes":13,"seconds":54}, "type": "temporal"}, "y": {"field": "c", "type": "quantitative"}}},
{"data": {"name": "candles"}, "transform": [{"filter": "datum.c == 98426.6"}], "mark": {"type": "text", "align": "center", "baseline": "middle", "fontSize": 12, "color": "#f23645"},
 "encoding": {"x": {"datum": {"year":2024,"month":12,"date":22,"hours":14,"minutes":13,"seconds":54}, "type": "temporal"}, "y": {"field": "c", "type": "quantitative"}, "text": {"field": "c", "format": ",.1f"}}}
]
},
{
"width": 1812, "height": 280,
"layer": [
{"data": {"values": [{"lo": 30, "hi": 70}]}, "mark": {"type": "rect", "color": "#7e57c2", "opacity": 0.1},
 "encoding": {"y": {"field": "hi", "type": "quantitative", "scale": {"domain": [-8.93, 86.73], "nice": false, "zero": false},
   "axis": {"orient": "right", "values": [0,20,40,60,80], "tickCount": 20, "labelExpr": "datum.value == 0 || datum.value == 40 ? '' : format(datum.value, '.2f')", "labelOverlap": false, "grid": true, "labelPadding": 11, "title": null}},
  "y2": {"field": "lo"}}},
{"data": {"name": "candles"}, "mark": {"type": "area", "color": "#4caf50", "opacity": 0.1},
 "encoding": {
  "x": {"field": "t", "type": "temporal", "scale": {"domain": [{"year":2024,"month":12,"date":21,"hours":11,"minutes":39,"seconds":52},{"year":2024,"month":12,"date":22,"hours":13,"minutes":46,"seconds":24}], "nice": false},
        "axis": {"values": [{"year":2024,"month":12,"date":21,"hours":12,"minutes":0},{"year":2024,"month":12,"date":21,"hours":13,"minutes":30},{"year":2024,"month":12,"date":21,"hours":15,"minutes":0},{"year":2024,"month":12,"date":21,"hours":16,"minutes":30},{"year":2024,"month":12,"date":21,"hours":18,"minutes":0},{"year":2024,"month":12,"date":21,"hours":19,"minutes":30},{"year":2024,"month":12,"date":21,"hours":21,"minutes":0},{"year":2024,"month":12,"date":21,"hours":22,"minutes":30},{"year":2024,"month":12,"date":22,"hours":0,"minutes":0},{"year":2024,"month":12,"date":22,"hours":1,"minutes":30},{"year":2024,"month":12,"date":22,"hours":3,"minutes":0},{"year":2024,"month":12,"date":22,"hours":4,"minutes":30},{"year":2024,"month":12,"date":22,"hours":6,"minutes":0},{"year":2024,"month":12,"date":22,"hours":7,"minutes":30},{"year":2024,"month":12,"date":22,"hours":9,"minutes":0},{"year":2024,"month":12,"date":22,"hours":10,"minutes":30},{"year":2024,"month":12,"date":22,"hours":12,"minutes":0},{"year":2024,"month":12,"date":22,"hours":13,"minutes":30}],
          "tickCount": 60,
          "labelExpr": "hours(datum.value) == 0 && minutes(datum.value) == 0 ? timeFormat(datum.value, '%d') : timeFormat(datum.value, '%H:%M')",
          "labelFontWeight": {"condition": {"test": "hours(datum.value) == 0 && minutes(datum.value) == 0", "value": "bold"}, "value": "normal"},
          "labelPadding": 4, "labelFlush": false, "labelOverlap": false, "grid": true,
          "title": "TradingView", "titleAnchor": "start", "titleAlign": "left", "titleX": 21, "titleY": 44, "titleFontSize": 11.5, "titleFontWeight": "normal", "titleColor": "#131722", "titleBaseline": "middle"}},
  "y": {"field": "upper", "type": "quantitative"}, "y2": {"field": "lower"}}},
{"data": {"values": [{"lvl": 70}, {"lvl": 30}]}, "mark": {"type": "rule", "color": "#787b86", "strokeDash": [5, 4], "strokeWidth": 1},
 "encoding": {"y": {"field": "lvl", "type": "quantitative"}}},
{"data": {"values": [{"lvl": 50}]}, "mark": {"type": "rule", "color": "#787b86", "strokeDash": [1, 2], "strokeWidth": 1},
 "encoding": {"y": {"field": "lvl", "type": "quantitative"}}},
{"data": {"name": "candles"}, "mark": {"type": "line", "color": "#4caf50", "strokeWidth": 1},
 "encoding": {"x": {"field": "t", "type": "temporal"}, "y": {"field": "upper", "type": "quantitative"}}},
{"data": {"name": "candles"}, "mark": {"type": "line", "color": "#4caf50", "strokeWidth": 1},
 "encoding": {"x": {"field": "t", "type": "temporal"}, "y": {"field": "lower", "type": "quantitative"}}},
{"data": {"name": "candles"}, "mark": {"type": "line", "color": "#fdd835", "strokeWidth": 1},
 "encoding": {"x": {"field": "t", "type": "temporal"}, "y": {"field": "basis", "type": "quantitative"}}},
{"data": {"name": "candles"}, "mark": {"type": "line", "color": "#7e57c2", "strokeWidth": 1},
 "encoding": {"x": {"field": "t", "type": "temporal"}, "y": {"field": "rsi", "type": "quantitative"}}},
{"data": {"name": "candles"}, "transform": [{"filter": "datum.signal == 'Sell'"}],
 "mark": {"type": "point", "shape": "triangle-down", "filled": true, "size": 81, "color": "#f23645", "opacity": 1},
 "encoding": {"x": {"field": "t", "type": "temporal"}, "y": {"datum": 72.8, "type": "quantitative"}}},
{"data": {"name": "candles"}, "transform": [{"filter": "datum.signal == 'Buy'"}],
 "mark": {"type": "point", "shape": "triangle-up", "filled": true, "size": 110, "color": "#4caf50", "opacity": 1},
 "encoding": {"x": {"field": "t", "type": "temporal"}, "y": {"datum": 3.4, "type": "quantitative"}}},
{"data": {"name": "rsiCircles"}, "transform": [{"filter": "datum.cls == 'a'"}], "mark": {"type": "point", "shape": "circle", "filled": false, "color": "#ff1a1a", "strokeWidth": 2, "opacity": 1, "size": 1936},
 "encoding": {"x": {"field": "t", "type": "temporal"}, "y": {"field": "v", "type": "quantitative"}}},
{"data": {"name": "rsiCircles"}, "transform": [{"filter": "datum.cls == 'b'"}], "mark": {"type": "point", "shape": "circle", "filled": false, "color": "#ff1a1a", "strokeWidth": 2, "opacity": 1, "size": 2500},
 "encoding": {"x": {"field": "t", "type": "temporal"}, "y": {"field": "v", "type": "quantitative"}}},
{"data": {"name": "rsiCircles"}, "transform": [{"filter": "datum.cls == 'c'"}], "mark": {"type": "point", "shape": "circle", "filled": false, "color": "#ff1a1a", "strokeWidth": 2, "opacity": 1, "size": 5041},
 "encoding": {"x": {"field": "t", "type": "temporal"}, "y": {"field": "v", "type": "quantitative"}}},
{"data": {"name": "rsiCircles"}, "transform": [{"filter": "datum.cls == 'd'"}], "mark": {"type": "point", "shape": "circle", "filled": false, "color": "#ff1a1a", "strokeWidth": 2, "opacity": 1, "size": 6561},
 "encoding": {"x": {"field": "t", "type": "temporal"}, "y": {"field": "v", "type": "quantitative"}}},
{"data": {"name": "rsiCircles"}, "transform": [{"filter": "datum.cls == 'e'"}], "mark": {"type": "point", "shape": "circle", "filled": false, "color": "#ff1a1a", "strokeWidth": 2, "opacity": 1, "size": 7744},
 "encoding": {"x": {"field": "t", "type": "temporal"}, "y": {"field": "v", "type": "quantitative"}}},
{"data": {"name": "rsiX"}, "mark": {"type": "point", "shape": "M-1,-1L1,1M1,-1L-1,1", "filled": false, "size": 484, "color": "#d7344f", "strokeWidth": 4, "strokeCap": "round", "opacity": 1},
 "encoding": {"x": {"field": "t", "type": "temporal"}, "y": {"field": "v", "type": "quantitative"}}},
{"data": {"name": "rsiLines"}, "mark": {"type": "rule", "color": "#ff1a1a", "strokeWidth": 2},
 "encoding": {"x": {"field": "t1", "type": "temporal"}, "x2": {"field": "t2"}, "y": {"field": "v1", "type": "quantitative"}, "y2": {"field": "v2"}}},
{"data": {"values": [{"label": "RSIBBD Signal"}]}, "mark": {"type": "text", "align": "left", "baseline": "middle", "fontSize": 12, "color": "#131722"},
 "encoding": {"x": {"datum": {"year":2024,"month":12,"date":21,"hours":11,"minutes":46,"seconds":57}, "type": "temporal"}, "y": {"datum": 82.29, "type": "quantitative"}, "text": {"field": "label"}}},
{"data": {"values": [{"label": "logo"}]}, "mark": {"type": "point", "shape": "M-1,-0.6L-0.25,-0.6L-0.25,0.6L-0.6,0.6L-0.6,-0.25L-1,-0.25Z M-0.15,-0.6L0.15,-0.6L0.15,-0.25L-0.15,-0.25Z M0.3,-0.6L1,-0.6L0.55,0.6L0.15,0.6Z", "size": 225, "filled": true, "color": "#131722", "opacity": 1},
 "encoding": {"x": {"datum": {"year":2024,"month":12,"date":21,"hours":11,"minutes":47,"seconds":36}, "type": "temporal"}, "y": {"datum": -25, "type": "quantitative"}}},
{"data": {"name": "candles"}, "transform": [{"filter": "datum.c == 98426.6"}, {"fold": ["upper", "basis", "rsi", "lower"], "as": ["key", "value"]}],
 "mark": {"type": "point", "shape": "M-1.34,-0.5L1.34,-0.5L1.34,0.5L-1.34,0.5Z", "size": 1024, "filled": true, "fill": "white", "strokeWidth": 1, "opacity": 1},
 "encoding": {"x": {"datum": {"year":2024,"month":12,"date":22,"hours":14,"minutes":5,"seconds":30}, "type": "temporal"}, "y": {"field": "value", "type": "quantitative"},
  "stroke": {"field": "key", "type": "nominal", "scale": {"domain": ["upper","basis","rsi","lower"], "range": ["#4caf50","#f5c518","#7e57c2","#4caf50"]}, "legend": null}}},
{"data": {"name": "candles"}, "transform": [{"filter": "datum.c == 98426.6"}, {"fold": ["upper", "basis", "rsi", "lower"], "as": ["key", "value"]}],
 "mark": {"type": "text", "align": "center", "baseline": "middle", "fontSize": 12.5},
 "encoding": {"x": {"datum": {"year":2024,"month":12,"date":22,"hours":14,"minutes":5,"seconds":30}, "type": "temporal"}, "y": {"field": "value", "type": "quantitative"},
  "text": {"field": "value", "format": ".2f"},
  "color": {"field": "key", "type": "nominal", "scale": {"domain": ["upper","basis","rsi","lower"], "range": ["#4caf50","#f5c518","#7e57c2","#4caf50"]}, "legend": null}}}
]
}
]
}
